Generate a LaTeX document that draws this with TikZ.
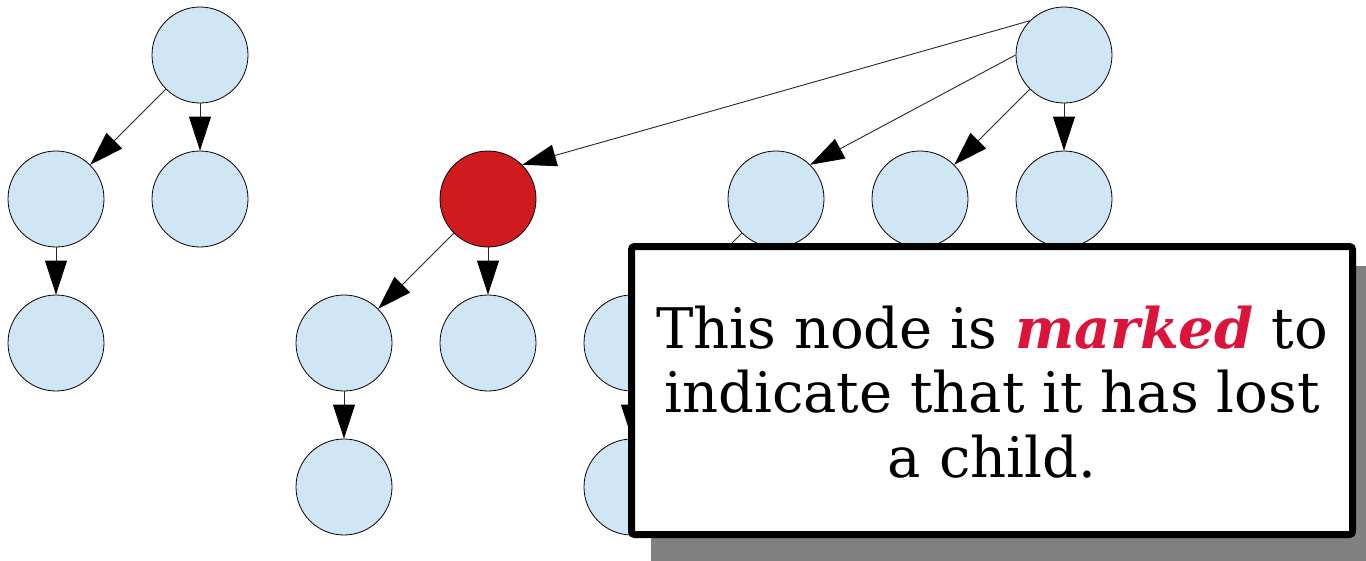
\documentclass[tikz,border=0pt]{standalone}
\usepackage{fontspec}
\setmainfont{DejaVu Serif}
\usetikzlibrary{arrows.meta}
\definecolor{nodeblue}{HTML}{D0E6F4}
\definecolor{nodered}{HTML}{CF1A1E}
\definecolor{markcol}{HTML}{DC143C}
\definecolor{shadowgray}{HTML}{808080}
\tikzset{
  heapnode/.style={circle, draw=black, line width=0.8pt, fill=nodeblue, minimum size=96pt, inner sep=0pt},
  markednode/.style={heapnode, fill=nodered},
  edge/.style={draw=black!85, line width=0.9pt, -{Triangle[length=34pt, width=22pt, color=black]}},
  notebox/.style={draw=black, line width=7pt, rounded corners=3pt, fill=white},
}
\begin{document}
\begin{tikzpicture}[x=1pt, y=-1pt]
\useasboundingbox (0,0) rectangle (1366,560);
% tree 1
\node[heapnode] (a) at (200,55) {};
\node[heapnode] (b) at (56,199) {};
\node[heapnode] (c) at (200,199) {};
\node[heapnode] (d) at (56,343) {};
\draw[edge] (a.225) -- (b.45);
\draw[edge] (a.south) -- (c.north);
\draw[edge] (b.south) -- (d.north);
% tree 2
\node[heapnode] (r) at (1064,55) {};
\node[markednode] (m) at (488,199) {};
\node[heapnode] (m1) at (344,343) {};
\node[heapnode] (m2) at (488,343) {};
\node[heapnode] (m11) at (344,487) {};
\node[heapnode] (r1) at (776,199) {};
\node[heapnode] (r2) at (920,199) {};
\node[heapnode] (r3) at (1064,199) {};
\node[heapnode] (r11) at (632,343) {};
\node[heapnode] (r111) at (632,487) {};
\draw[edge] (r.135) -- (m.45);
\draw[edge] (r.180) -- (r1.45);
\draw[edge] (r.225) -- (r2.45);
\draw[edge] (r.south) -- (r3.north);
\draw[edge] (m.225) -- (m1.45);
\draw[edge] (m.south) -- (m2.north);
\draw[edge] (m1.south) -- (m11.north);
\draw[edge] (r1.225) -- (r11.45);
\draw[edge] (r11.south) -- (r111.north);
% note box
\coordinate (s1) at (651,266);
\coordinate (s2) at (1380,564);
\fill[shadowgray] (s1) rectangle (s2);
\coordinate (b1) at (631.5,246.5);
\coordinate (b2) at (1352.5,534.5);
\path[notebox] (b1) rectangle (b2);
\node[align=center, font=\fontsize{56pt}{64.5pt}\selectfont, inner sep=0pt] (note) at (992,392)
  {This node is \textcolor{markcol}{\textbf{\textit{marked}}} to\\ indicate that it has lost\\ a child.};
\end{tikzpicture}
\end{document}
